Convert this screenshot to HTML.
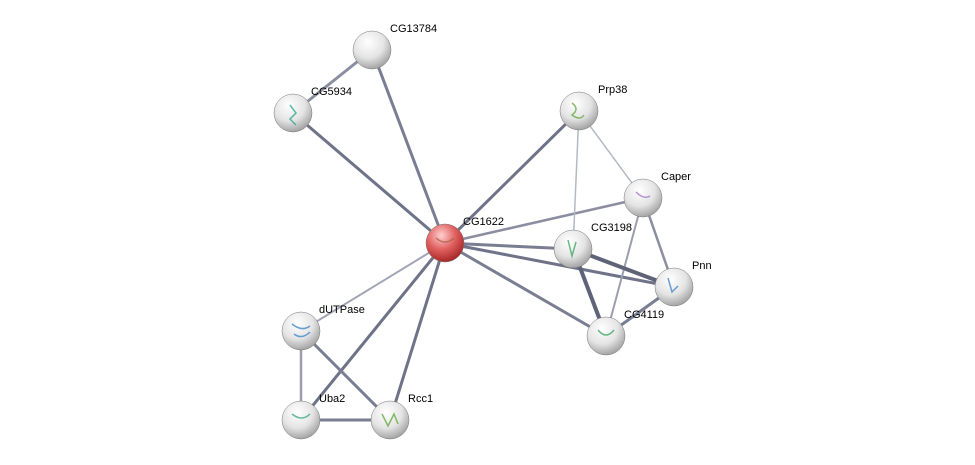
<!DOCTYPE html>
<html><head><meta charset="utf-8"><style>
html,body{margin:0;padding:0;background:#fff;}
svg{display:block}
text{font-family:"Liberation Sans",sans-serif;font-size:11px;fill:#000}
</style></head><body>
<svg width="975" height="465" viewBox="0 0 975 465">
<defs>
<radialGradient id="g" cx="40%" cy="30%" r="75%">
<stop offset="0" stop-color="#ffffff"/><stop offset="0.55" stop-color="#e4e4e4"/><stop offset="1" stop-color="#9a9a9a"/>
</radialGradient>
<radialGradient id="r" cx="40%" cy="30%" r="75%">
<stop offset="0" stop-color="#ffd0d0"/><stop offset="0.5" stop-color="#e06060"/><stop offset="1" stop-color="#a02020"/>
</radialGradient>
</defs>
<g stroke-linecap="round">
<line x1="372" y1="50" x2="293" y2="113" stroke="#8a8ea0" stroke-width="3"/>
<line x1="372" y1="50" x2="445" y2="243" stroke="#7a7e92" stroke-width="3"/>
<line x1="293" y1="113" x2="445" y2="243" stroke="#6f7388" stroke-width="3"/>
<line x1="445" y1="243" x2="579" y2="111" stroke="#6f7388" stroke-width="3"/>
<line x1="445" y1="243" x2="643" y2="198" stroke="#8a8ea0" stroke-width="2.5"/>
<line x1="445" y1="243" x2="573" y2="249" stroke="#7a7e92" stroke-width="3"/>
<line x1="445" y1="243" x2="674" y2="287" stroke="#6f7388" stroke-width="3"/>
<line x1="445" y1="243" x2="606" y2="336" stroke="#7a7e92" stroke-width="3"/>
<line x1="445" y1="243" x2="301" y2="331" stroke="#a0a4b4" stroke-width="2"/>
<line x1="445" y1="243" x2="301" y2="420" stroke="#6f7388" stroke-width="3"/>
<line x1="445" y1="243" x2="390" y2="420" stroke="#6f7388" stroke-width="3"/>
<line x1="579" y1="111" x2="643" y2="198" stroke="#b4b8c4" stroke-width="1.5"/>
<line x1="579" y1="111" x2="573" y2="249" stroke="#b4b8c4" stroke-width="1.5"/>
<line x1="643" y1="198" x2="674" y2="287" stroke="#8a8ea0" stroke-width="2.5"/>
<line x1="643" y1="198" x2="606" y2="336" stroke="#9a9eb0" stroke-width="2"/>
<line x1="573" y1="249" x2="674" y2="287" stroke="#5f6378" stroke-width="4"/>
<line x1="573" y1="249" x2="606" y2="336" stroke="#5f6378" stroke-width="4"/>
<line x1="606" y1="336" x2="674" y2="287" stroke="#7a7e92" stroke-width="3"/>
<line x1="301" y1="331" x2="301" y2="420" stroke="#9a9eb0" stroke-width="2.5"/>
<line x1="301" y1="331" x2="390" y2="420" stroke="#7a7e92" stroke-width="3"/>
<line x1="301" y1="420" x2="390" y2="420" stroke="#7a7e92" stroke-width="3"/>
</g>
<g stroke="#777" stroke-width="0.5">
<circle cx="372" cy="50" r="19" fill="url(#g)"/>
<circle cx="293" cy="113" r="19" fill="url(#g)"/>
<circle cx="579" cy="111" r="19" fill="url(#g)"/>
<circle cx="643" cy="198" r="19" fill="url(#g)"/>
<circle cx="573" cy="249" r="19" fill="url(#g)"/>
<circle cx="674" cy="287" r="19" fill="url(#g)"/>
<circle cx="606" cy="336" r="19" fill="url(#g)"/>
<circle cx="301" cy="331" r="19" fill="url(#g)"/>
<circle cx="301" cy="420" r="19" fill="url(#g)"/>
<circle cx="390" cy="420" r="19" fill="url(#g)"/>
<circle cx="445" cy="243" r="19" fill="url(#r)"/>
</g>
<g fill="none" stroke-width="1.5" opacity="0.8">
<path d="M290 105 l6 8 -6 6 6 6" stroke="#3a8"/>
<path d="M572 103 q8 6 0 12 q8 6 12 0" stroke="#6a4"/>
<path d="M636 192 q8 8 14 4" stroke="#a7c"/>
<path d="M568 240 l4 16 4 -14" stroke="#4a6"/>
<path d="M668 278 l4 14 6 -6" stroke="#48c"/>
<path d="M598 330 q8 10 16 0" stroke="#4a6"/>
<path d="M292 324 q10 8 18 2 m-16 8 q8 6 16 -2" stroke="#48c"/>
<path d="M292 414 q10 8 18 0" stroke="#4a8"/>
<path d="M382 414 l6 12 6 -12 4 10" stroke="#6a4"/>
<path d="M436 238 q9 8 18 0" stroke="#a64"/>
</g>
<text x="390" y="32">CG13784</text>
<text x="311" y="95">CG5934</text>
<text x="598" y="93">Prp38</text>
<text x="661" y="180">Caper</text>
<text x="463" y="225">CG1622</text>
<text x="591" y="231">CG3198</text>
<text x="692" y="269">Pnn</text>
<text x="624" y="318">CG4119</text>
<text x="319" y="313">dUTPase</text>
<text x="319" y="402">Uba2</text>
<text x="408" y="402">Rcc1</text>
</svg>
</body></html>
